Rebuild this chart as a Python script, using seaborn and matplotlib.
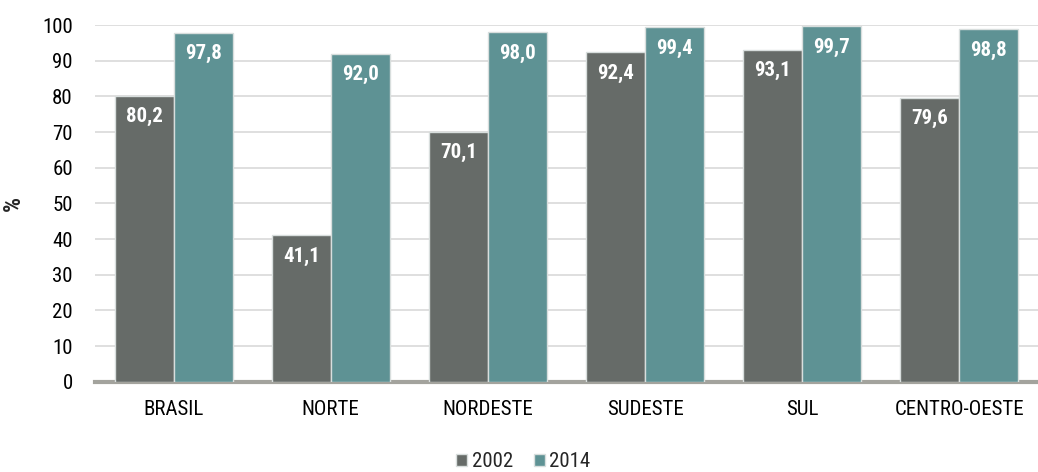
import seaborn as sns
import matplotlib.pyplot as plt
import pandas as pd

regioes = ['BRASIL', 'NORTE', 'NORDESTE', 'SUDESTE', 'SUL', 'CENTRO-OESTE']
anos = ['2002', '2014']
v2002 = [80.2, 41.1, 70.1, 92.4, 93.1, 79.6]
v2014 = [97.8, 92.0, 98.0, 99.4, 99.7, 98.8]
yticks = list(range(0, 101, 10))

df = pd.DataFrame({
    'regiao': regioes * 2,
    'ano': [anos[0]] * len(regioes) + [anos[1]] * len(regioes),
    'valor': v2002 + v2014,
})

sns.set_theme(style='white')
# fonte estreita (tipo Arial Narrow), com alternativas
plt.rcParams['font.family'] = ['Arial Narrow', 'Liberation Sans Narrow', 'Roboto Condensed',
                               'Archivo Narrow', 'PT Sans Narrow', 'Liberation Sans', 'DejaVu Sans']

fig = plt.figure(figsize=(10.38, 4.72), dpi=100)
ax = fig.add_axes([0.0915, 0.191, 0.9085, 0.756])

cores = {'2002': '#666b68', '2014': '#5e9294'}
sns.barplot(df, x='regiao', y='valor', hue='ano', palette=cores, width=0.75,
            edgecolor='#d8dedd', linewidth=1, saturation=1, ax=ax, zorder=3)

for cont in ax.containers:
    ax.bar_label(cont, labels=[f'{v:.1f}'.replace('.', ',') for v in cont.datavalues],
                 label_type='edge', padding=-22, color='white', fontsize=15,
                 fontweight='bold')

ax.set_xlim(-0.5, 5.5)
ax.set_ylim(0, 100)
ax.set_yticks(yticks)
ax.yaxis.grid(True, color='#d9d9d9', linewidth=1.2, zorder=0)
ax.set_axisbelow(True)
for s in ['top', 'right', 'left']:
    ax.spines[s].set_visible(False)
ax.spines['bottom'].set_color('#a3a39d')
ax.spines['bottom'].set_linewidth(3)
ax.tick_params(axis='both', labelsize=15, colors='black', length=0)
ax.tick_params(axis='x', pad=13)
ax.tick_params(axis='y', pad=16)
ax.set_xlabel('')
ax.set_ylabel('%', fontsize=17, fontweight='bold', labelpad=12)

ax.legend(loc='center', bbox_to_anchor=(0.454, -0.224), ncol=2, frameon=False,
          fontsize=15, handlelength=0.55, handleheight=0.55, handletextpad=0.2,
          columnspacing=1.0)

plt.savefig('out.png', dpi=100)
